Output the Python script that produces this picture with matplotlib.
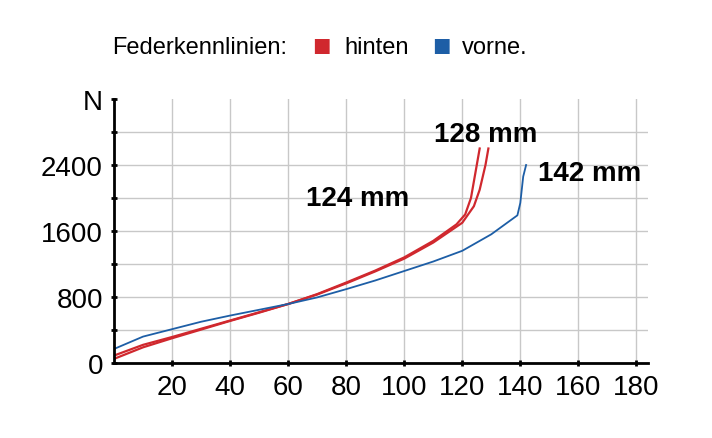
import matplotlib
matplotlib.use("Agg")
import matplotlib.pyplot as plt

plt.rcParams["font.family"] = ["Liberation Sans Narrow", "Liberation Sans", "DejaVu Sans"]

# Federweg (mm) / Kraft (N)
vorne_x = [0, 10, 20, 30, 40, 50, 60, 70, 80, 90, 100, 110, 120, 130, 139, 140, 141, 142]
vorne_y = [170, 320, 410, 500, 575, 645, 715, 795, 895, 1000, 1115, 1230, 1360, 1560, 1790, 1940, 2260, 2400]

hinten124_x = [0, 10, 20, 30, 40, 50, 60, 70, 80, 90, 100, 110, 118, 121, 123, 124, 125, 126]
hinten124_y = [90, 220, 315, 415, 515, 615, 715, 835, 975, 1120, 1280, 1480, 1680, 1800, 2000, 2200, 2400, 2600]

hinten128_x = [0, 10, 20, 30, 40, 50, 60, 70, 80, 90, 100, 110, 120, 124, 126, 127, 128, 129]
hinten128_y = [50, 190, 300, 405, 510, 610, 715, 830, 965, 1110, 1265, 1460, 1700, 1900, 2100, 2250, 2400, 2600]

x_ticks = [20, 40, 60, 80, 100, 120, 140, 160, 180]
y_ticks = [0, 800, 1600, 2400]

red = "#d0282e"
blue = "#1d5ea6"

fig = plt.figure(figsize=(7.12, 4.39), dpi=100)
ax = fig.add_axes([114 / 712, 1 - 364 / 439, 534 / 712, 264 / 439])

ax.plot(hinten124_x, hinten124_y, color=red, lw=1.6)
ax.plot(hinten128_x, hinten128_y, color=red, lw=1.6)
ax.plot(vorne_x, vorne_y, color=blue, lw=1.3)

ax.set_xlim(0, 184)
ax.set_ylim(0, 3200)
ax.set_xticks(x_ticks)
ax.set_yticks(y_ticks + [3200])
ax.set_yticklabels([str(v) for v in y_ticks] + ["N"])
ax.set_yticks(range(400, 3000, 800), minor=True)
ax.grid(True, which="both", color="#c8c8c8", lw=1)
ax.set_axisbelow(True)
ax.yaxis.get_gridlines()[-1].set_visible(False)
for s in ["top", "right"]:
    ax.spines[s].set_visible(False)
ax.spines["left"].set_linewidth(2)
ax.spines["bottom"].set_linewidth(2)
ax.tick_params(which="both", length=4, width=2, direction="inout", labelsize=20, pad=6)

ax.text(128, 2780, "128 mm", fontsize=20, fontweight="bold", ha="center", va="center")
ax.text(84, 2000, "124 mm", fontsize=20, fontweight="bold", ha="center", va="center")
ax.text(146, 2300, "142 mm", fontsize=20, fontweight="bold", ha="left", va="center")

fig.text(112 / 712, 1 - 48 / 439, "Federkennlinien:", fontsize=17, va="center")
fig.text(312 / 712, 1 - 48 / 439, "\u25a0", color=red, fontsize=22, va="center")
fig.text(344 / 712, 1 - 48 / 439, "hinten", fontsize=17, va="center")
fig.text(432 / 712, 1 - 48 / 439, "\u25a0", color=blue, fontsize=22, va="center")
fig.text(462 / 712, 1 - 48 / 439, "vorne.", fontsize=17, va="center")

fig.savefig("out.png", dpi=100)
